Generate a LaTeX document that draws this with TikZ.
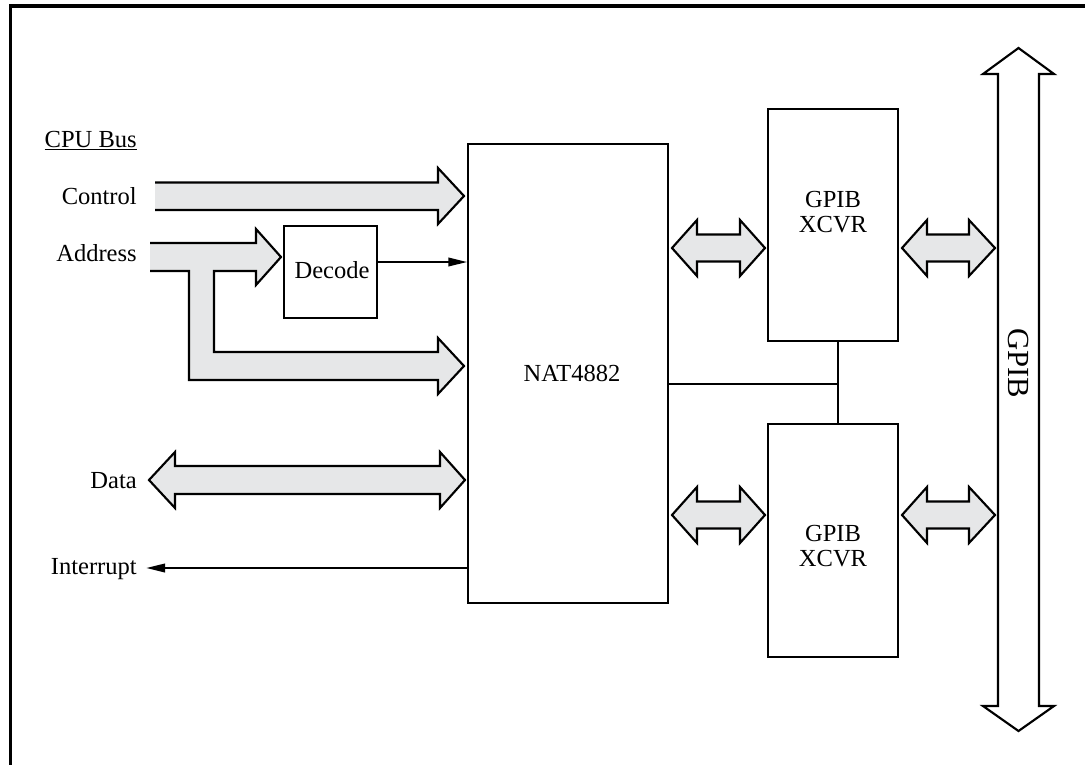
\documentclass[tikz,border=0pt]{standalone}
\usepackage{fontspec}
\setmainfont{Liberation Serif}
\usetikzlibrary{arrows.meta}
\definecolor{busgray}{RGB}{230,231,232}
\begin{document}
\begin{tikzpicture}[x=0.75pt,y=-0.75pt,
  font=\fontsize{18.4}{18.8}\selectfont,
  box/.style={draw, line width=1.5pt, inner sep=0pt},
  txt/.style={inner sep=0pt, align=center},
  lbl/.style={anchor=base east, inner sep=0pt},
  fatline/.style={draw, line width=1.6pt, line join=miter},
  fatfill/.style={fill=busgray},
  thin/.style={line width=1.2pt, -{Triangle[length=14pt,width=6.5pt]}},
  wire/.style={line width=1.5pt}]
\useasboundingbox (0,0) rectangle (1085,765);
% frame
\draw[line width=2.6pt, line join=miter] (1085,6) -- (10.5,6) -- (10.5,765);

% boxes
\node[box, minimum width=150pt, minimum height=344.25pt] (nat) at (568,373.5) {};
\node[txt] (natt) at (572,373) {NAT4882};
\node[box, minimum width=69.75pt, minimum height=69pt] (dec) at (330.5,272) {};
\node[txt] (dect) at (332,270) {Decode};
\node[box, minimum width=97.5pt, minimum height=174pt] (x1) at (833,225) {};
\node[box, minimum width=97.5pt, minimum height=174.75pt] (x2) at (833,540.5) {};
\node[txt] (x1t) at (833,212.5) {GPIB\\XCVR};
\node[txt] (x2t) at (833,546.5) {GPIB\\XCVR};

% labels
\node[lbl] (cpu) at (137,147) {\underline{CPU Bus}};
\node[lbl] (ctl) at (137,204) {Control};
\node[lbl] (adr) at (137,261) {Address};
\node[lbl] (dat) at (137,488) {Data};
\node[lbl] (intr) at (137,574) {Interrupt};

% control fat arrow
\path[fatfill] (155,182.5) -- (438,182.5) -- (438,168) -- (464,196) -- (438,224) -- (438,210) -- (155,210) -- cycle;
\path[fatline] (155,182.5) -- (438,182.5) -- (438,168) -- (464,196) -- (438,224) -- (438,210) -- (155,210);

% address fat arrow with branch
\path[fatfill] (150,243) -- (256,243) -- (256,229) -- (281,257) -- (256,285) -- (256,271) -- (214,271) -- (214,352) -- (438,352) -- (438,338) -- (464,366) -- (438,394) -- (438,380) -- (189,380) -- (189,271) -- (150,271) -- cycle;
\path[fatline] (150,243) -- (256,243) -- (256,229) -- (281,257) -- (256,285) -- (256,271) -- (214,271) -- (214,352) -- (438,352) -- (438,338) -- (464,366) -- (438,394) -- (438,380) -- (189,380) -- (189,271) -- (150,271);

% data double arrow
\path[fatline, fatfill] (149,480) -- (175,452) -- (175,466) -- (440,466) -- (440,452) -- (465,480) -- (440,508) -- (440,494) -- (175,494) -- (175,508) -- cycle;

% double arrows near transceivers
\foreach \cy in {248,515} {
  \path[fatline, fatfill] (672,\cy) -- (697,\cy-28) -- (697,\cy-13.5) -- (740,\cy-13.5) -- (740,\cy-28) -- (765,\cy) -- (740,\cy+28) -- (740,\cy+13.5) -- (697,\cy+13.5) -- (697,\cy+28) -- cycle;
  \path[fatline, fatfill] (902,\cy) -- (927,\cy-28) -- (927,\cy-13.5) -- (969,\cy-13.5) -- (969,\cy-28) -- (995,\cy) -- (969,\cy+28) -- (969,\cy+13.5) -- (927,\cy+13.5) -- (927,\cy+28) -- cycle;
}

% GPIB bus
\path[fatline, fill=white] (1018.5,48) -- (1054,74) -- (1039,74) -- (1039,706) -- (1054,706) -- (1018.5,731) -- (983,706) -- (998,706) -- (998,74) -- (983,74) -- cycle;
\node[inner sep=0pt, rotate=-90, font=\fontsize{23}{23}\selectfont] (gpib) at (1018.5,363) {GPIB};

% thin connectors
\draw[thin] (dec.east |- 0,262) -- (nat.west |- 0,262);
\draw[thin] (nat.west |- 0,568) -- ([xshift=7pt]intr.east |- 0,568);
\coordinate (j) at (838,384);
\draw[wire] (nat.east |- j) -- (j);
\draw[wire] (j |- x1.south) -- (j |- x2.north);
\end{tikzpicture}
\end{document}
